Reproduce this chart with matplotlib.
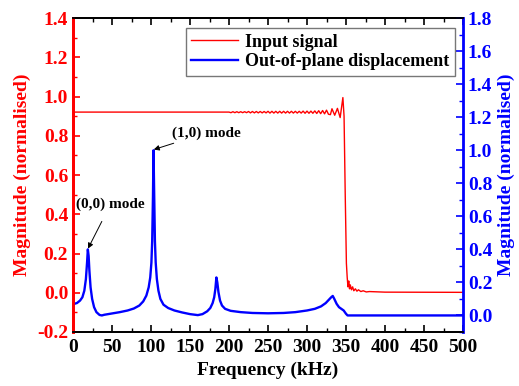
import matplotlib
matplotlib.use("Agg")
from matplotlib import pyplot as plt
from matplotlib.ticker import MultipleLocator

plt.rcParams["font.family"] = "Liberation Serif"
plt.rcParams["font.weight"] = "bold"
plt.rcParams["axes.labelweight"] = "bold"
plt.rcParams["font.size"] = 13

RED = "#ff0000"
BLUE = "#0000ff"

# input signal (left axis)
red_freq = [0, 100, 200, 202.5, 205, 207.5, 210, 212.5, 215, 217.5, 220, 222.5,
            225, 227.5, 230, 232.5, 235, 237.5, 240, 242.5, 245, 247.5, 250,
            252.5, 255, 257.5, 260, 262.5, 265, 267.5, 270, 272.5, 275, 277.5,
            280, 282.5, 285, 287.5, 290, 292.5, 295, 297.5, 300, 302.5, 305,
            307.5, 310, 312.5, 315, 317.5, 320, 322.5, 325, 327.5, 330, 332,
            335.5, 339, 342.5, 346, 347.5, 349, 350.5, 351.5, 352.5, 353.5,
            354.5, 355.5, 357, 358.5, 360, 362, 364, 366, 369, 372, 376, 380,
            400, 500]
red_mag = [0.921, 0.921, 0.921, 0.918, 0.923, 0.918, 0.923, 0.918, 0.923, 0.918,
           0.923, 0.918, 0.924, 0.917, 0.924, 0.917, 0.924, 0.917, 0.924, 0.917,
           0.924, 0.917, 0.925, 0.916, 0.925, 0.916, 0.925, 0.916, 0.925, 0.916,
           0.925, 0.916, 0.925, 0.916, 0.925, 0.916, 0.925, 0.916, 0.925, 0.916,
           0.926, 0.915, 0.926, 0.915, 0.926, 0.915, 0.927, 0.914, 0.928, 0.913,
           0.929, 0.912, 0.931, 0.910, 0.908, 0.938, 0.905, 0.940, 0.893, 0.995,
           0.900, 0.500, 0.150, 0.080, 0.030, 0.060, 0.020, 0.040, 0.015, 0.030,
           0.010, 0.020, 0.008, 0.015, 0.006, 0.010, 0.004, 0.006, 0.003, 0.002]

# out-of-plane displacement (right axis)
blue_freq = [0, 5, 9, 12, 14.5, 16.5, 18, 19, 20, 21, 22.5, 24.5, 27, 30, 34, 37,
             40, 50, 60, 70, 78, 85, 90, 94, 97, 99, 100.5, 101.5, 102.5, 103.2,
             104, 105, 106, 107.5, 109.5, 112, 116, 122, 130, 140, 150, 160, 166,
             172, 176, 179, 181, 182.5, 183.8, 185, 186.5, 188.5, 191, 195, 202,
             215, 230, 250, 270, 285, 300, 310, 318, 324, 328, 331, 333, 335, 338,
             341, 344, 347, 350, 352, 500]
blue_mag = [0.068, 0.075, 0.09, 0.11, 0.15, 0.22, 0.32, 0.40, 0.36, 0.27, 0.17,
            0.10, 0.05, 0.02, 0.003, 0.0, 0.004, 0.012, 0.02, 0.03, 0.042, 0.06,
            0.085, 0.12, 0.17, 0.23, 0.32, 0.45, 0.72, 1.0, 0.75, 0.45, 0.32,
            0.22, 0.15, 0.10, 0.065, 0.045, 0.03, 0.018, 0.008, 0.002, 0.008,
            0.025, 0.045, 0.075, 0.11, 0.16, 0.23, 0.20, 0.14, 0.09, 0.06, 0.04,
            0.028, 0.02, 0.015, 0.013, 0.015, 0.02, 0.03, 0.04, 0.055, 0.075,
            0.095, 0.11, 0.118, 0.10, 0.07, 0.05, 0.04, 0.03, 0.01, 0.0, 0.0]

fig = plt.figure(figsize=(5.19, 3.86), dpi=100)
ax = fig.add_axes([0.1407, 0.140, 0.7514, 0.813])
ax2 = ax.twinx()

l1, = ax.plot(red_freq, red_mag, color=RED, lw=1.0, label="Input signal")
l2, = ax2.plot(blue_freq, blue_mag, color=BLUE, lw=1.7,
               label="Out-of-plane displacement")

ax.set_xlim(0, 500)
ax.set_ylim(-0.2, 1.4)
ax2.set_ylim(-0.1, 1.8)

ax.xaxis.set_major_locator(MultipleLocator(50))
ax.xaxis.set_minor_locator(MultipleLocator(25))
ax.yaxis.set_major_locator(MultipleLocator(0.2))
ax.yaxis.set_minor_locator(MultipleLocator(0.1))
ax2.set_yticks([0.0, 0.2, 0.4, 0.6, 0.8, 1.0, 1.2, 1.4, 1.6, 1.8])
ax2.yaxis.set_minor_locator(MultipleLocator(0.1))

ax.tick_params(axis="x", which="both", direction="in", top=True, colors="black")
ax.tick_params(axis="x", which="major", length=5, width=1.2, pad=5, labelsize=14)
ax.tick_params(axis="x", which="minor", length=3, width=1.0)
ax.tick_params(axis="y", which="both", direction="in", colors=RED)
ax.tick_params(axis="y", which="major", length=5, width=1.2, labelsize=14)
ax.tick_params(axis="y", which="minor", length=3, width=1.0)
ax2.tick_params(axis="y", which="both", direction="in", colors=BLUE)
ax2.tick_params(axis="y", which="major", length=5, width=1.2, labelsize=14)
ax2.tick_params(axis="y", which="minor", length=3, width=1.0)

ax.yaxis.set_major_formatter(lambda v, p: "{:.1f}".format(v))
ax2.yaxis.set_major_formatter(lambda v, p: "{:.1f}".format(v))

for lab in ax.get_xticklabels() + ax.get_yticklabels() + ax2.get_yticklabels():
    lab.set_fontweight("bold")

ax.spines["left"].set_color(RED)
ax.spines["left"].set_linewidth(2)
ax2.spines["left"].set_color(RED)
ax2.spines["left"].set_linewidth(2)
ax2.spines["right"].set_color(BLUE)
ax2.spines["right"].set_linewidth(2)
for s in ["top", "bottom"]:
    ax.spines[s].set_linewidth(1.3)
    ax2.spines[s].set_linewidth(1.3)

ax.set_xlabel("Frequency (kHz)", fontsize=14, fontweight="bold", labelpad=4)
ax.set_ylabel("Magnitude (normalised)", color=RED, fontsize=14,
              fontweight="bold", labelpad=4)
ax2.set_ylabel("Magnitude (normalised)", color=BLUE, fontsize=14,
               fontweight="bold", labelpad=4)

ax.annotate("(0,0) mode", xy=(19.2, 0.225), xytext=(4, 0.45),
            fontsize=11, fontweight="bold", va="center", ha="left",
            arrowprops=dict(arrowstyle="-|>", color="black", lw=0.7,
                            mutation_scale=8, shrinkA=6, shrinkB=0))
ax.annotate("(1,0) mode", xy=(103.5, 0.73), xytext=(127, 0.815),
            fontsize=11, fontweight="bold", va="center", ha="left",
            arrowprops=dict(arrowstyle="-|>", color="black", lw=0.7,
                            mutation_scale=8, shrinkA=2, shrinkB=0))

leg = ax2.legend([l1, l2], ["Input signal", "Out-of-plane displacement"],
                 loc="upper right", bbox_to_anchor=(0.979, 0.968),
                 borderaxespad=0, fancybox=False, fontsize=13,
                 handlelength=2.6, borderpad=0.3, labelspacing=0.15,
                 handletextpad=0.4)
leg.get_frame().set_edgecolor("#555555")
leg.get_frame().set_linewidth(1.0)

fig.savefig("out.png", dpi=100)
